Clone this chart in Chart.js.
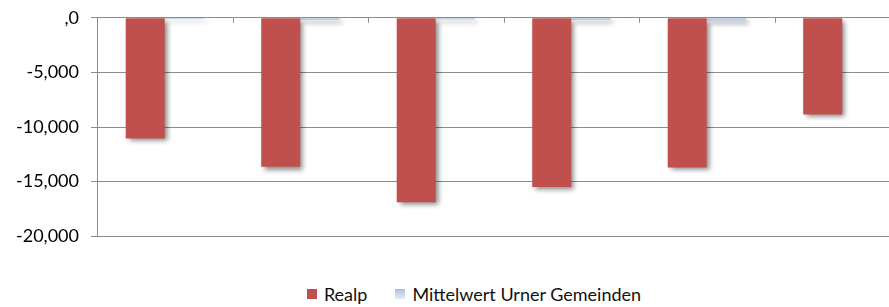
<!DOCTYPE html>
<html>
<head>
<meta charset="utf-8">
<script src="https://cdn.jsdelivr.net/npm/chart.js@4.4.1/dist/chart.umd.min.js"></script>
<style>
    body { margin: 0; overflow: hidden; background: #fff; font-family: Lato, sans-serif; }
    #wrap { position: relative; width: 948px; height: 307px; }
    #box { position: absolute; left: 0; top: -5px; width: 948px; height: 264px; }
    #legend { position: absolute; left: 0; top: 283px; width: 948px; display: flex; justify-content: center; font-size: 18px; color: #111; }
    #legend span.item { display: flex; align-items: center; margin: 0 14px; }
    #legend span.sw { display: inline-block; width: 10px; height: 10px; margin-right: 7px; }
</style>
</head>
<body>
<div id="wrap">
    <div id="box"><canvas id="chart"></canvas></div>
    <div id="legend"></div>
</div>
<script>
// data
const categories = ['1', '2', '3', '4', '5', '6'];
const realp = [-11050, -13650, -16900, -15500, -13700, -8850];
const mittelwert = [-100, -200, -150, -200, -280, null];
const yTicks = [0, -5000, -10000, -15000, -20000];

// Shadow under the bars
const barShadow = {
    id: 'barShadow',
    beforeDatasetsDraw(chart) {
        const ctx = chart.ctx;
        ctx.save();
        ctx.shadowColor = 'rgba(0,0,0,0.45)';
        ctx.shadowBlur = 5;
        ctx.shadowOffsetX = 3;
        ctx.shadowOffsetY = 3;
    },
    afterDatasetsDraw(chart) {
        chart.ctx.restore();
    }
};

// small tick marks between the categories, hanging from the zero line
const catTicks = {
    id: 'catTicks',
    afterDatasetsDraw(chart) {
        const x = chart.scales.x, y = chart.scales.y, ctx = chart.ctx;
        const y0 = y.getPixelForValue(0);
        ctx.save();
        ctx.strokeStyle = '#8c8c8c';
        ctx.lineWidth = 1;
        for (let i = 0; i < categories.length - 1; i++) {
            const px = Math.round((x.getPixelForValue(i) + x.getPixelForValue(i + 1)) / 2) + 0.5;
            ctx.beginPath();
            ctx.moveTo(px, y0);
            ctx.lineTo(px, y0 + 5);
            ctx.stroke();
        }
        ctx.restore();
    }
};

const ctx = document.getElementById('chart').getContext('2d');
const chart = new Chart(ctx, {
    type: 'bar',
    data: {
        labels: categories,
        datasets: [{
            label: 'Realp',
            data: realp,
            backgroundColor: '#c0504d'
        }, {
            label: 'Mittelwert Urner Gemeinden',
            data: mittelwert,
            backgroundColor: '#b9cde5'
        }]
    },
    options: {
        responsive: true,
        maintainAspectRatio: false,
        animation: false,
        layout: { padding: { top: 1, right: 38, bottom: 4, left: 0 } },
        plugins: {
            legend: { display: false },
            tooltip: { enabled: false }
        },
        datasets: {
            bar: { categoryPercentage: 0.576, barPercentage: 1 }
        },
        scales: {
            x: { display: false },
            y: {
                min: -20000,
                max: 0,
                afterFit(scale) { scale.width = 97; },
                afterBuildTicks(scale) { scale.ticks = yTicks.map(v => ({ value: v })); },
                border: { color: '#8c8c8c', width: 1 },
                grid: { color: '#8c8c8c', lineWidth: 1, tickLength: 6 },
                ticks: {
                    padding: 12,
                    color: '#000',
                    font: { family: 'Lato', size: 18 },
                    callback: v => v === 0 ? ',0' : v.toLocaleString('en-US')
                }
            }
        }
    },
    plugins: [barShadow, catTicks]
});

// legend as html below the chart
const legend = document.getElementById('legend');
chart.data.datasets.forEach(ds => {
    const item = document.createElement('span');
    item.className = 'item';
    const sw = document.createElement('span');
    sw.className = 'sw';
    sw.style.background = ds.label === 'Realp' ? ds.backgroundColor : 'linear-gradient(#a7bfe2, #e6edf7)';
    item.appendChild(sw);
    item.appendChild(document.createTextNode(ds.label));
    legend.appendChild(item);
});
</script>
</body>
</html>
